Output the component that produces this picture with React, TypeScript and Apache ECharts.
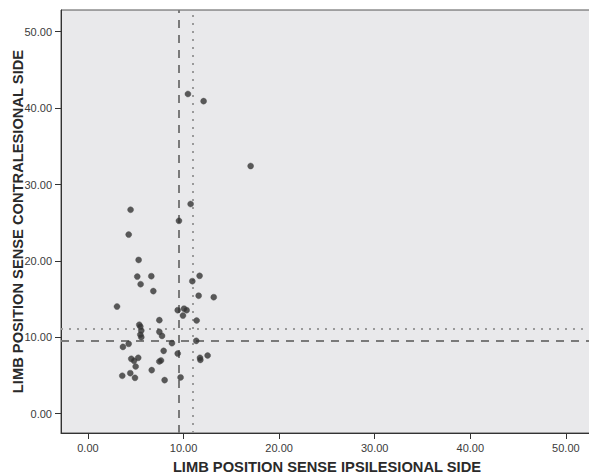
import React, { useEffect, useRef } from "react";
import * as echarts from "echarts";

const ipsilesional: number[] = [
  4.46, 4.26, 10.74, 9.52, 5.3, 5.16, 6.63, 5.51, 6.84, 11.68, 10.92, 11.58, 13.16,
  3.04, 9.39, 10.05, 10.32, 9.94, 7.47, 11.37, 5.37, 5.48, 5.58, 5.48, 5.58, 7.47,
  7.75, 11.33, 8.79, 4.26, 3.66, 7.92, 9.39, 4.53, 4.82, 5.26, 12.52, 11.72, 11.76,
  4.99, 7.47, 7.64, 6.67, 3.59, 4.43, 4.92, 8.02, 9.69, 10.46, 12.1, 17.02,
];
const contralesional: number[] = [
  26.7, 23.45, 27.45, 25.25, 20.13, 17.95, 18.0, 16.95, 16.05, 18.05, 17.35, 15.45, 15.25,
  14.03, 13.55, 13.75, 13.55, 12.85, 12.25, 12.2, 11.65, 11.41, 10.89, 10.35, 10.02, 10.72,
  10.19, 9.54, 9.24, 9.15, 8.75, 8.23, 7.88, 7.19, 6.93, 7.32, 7.62, 7.32, 7.05,
  6.18, 6.84, 6.97, 5.71, 4.97, 5.31, 4.7, 4.4, 4.75, 41.85, 40.91, 32.42,
];
const tickValues: number[] = [0, 10, 20, 30, 40, 50];
const xCutoffs = { dashed: 9.5, dotted: 11.0 };
const yCutoffs = { dashed: 9.55, dotted: 11.08 };
const xName = "LIMB POSITION SENSE IPSILESIONAL SIDE";
const yName = "LIMB POSITION SENSE CONTRALESIONAL SIDE";

const FONT = "'Liberation Sans', Arial, sans-serif";

export default function App() {
  const ref = useRef<HTMLDivElement>(null);
  useEffect(() => {
    if (!ref.current) return;
    const chart = echarts.init(ref.current, undefined, { renderer: "svg" });
    const points = ipsilesional.map((x, i) => [x, contralesional[i]]);
    const axisCommon = (name: string, min: number, max: number, nameGap: number) => ({
      type: "value" as const,
      min,
      max,
      name,
      nameLocation: "middle" as const,
      nameGap,
      nameMoveOverlap: false,
      nameTextStyle: { fontFamily: FONT, fontWeight: "bold", fontSize: 14.7, color: "#2a2a2a" },
      axisLine: { show: true, onZero: false, lineStyle: { color: "#333", width: 1 } },
      axisTick: { show: true, length: 6, customValues: tickValues, lineStyle: { color: "#333", width: 1 } },
      axisLabel: {
        customValues: tickValues,
        margin: 9,
        fontFamily: FONT,
        fontSize: 11,
        color: "#3a3a3a",
        formatter: (v: number) => v.toFixed(2),
      },
      splitLine: { show: false },
    });
    chart.setOption({
      animation: false,
      backgroundColor: "#ffffff",
      grid: {
        left: 61,
        top: 10,
        width: 532,
        height: 423,
        containLabel: false,
        outerBoundsMode: "none",
        show: true,
        backgroundColor: "#e9e9eb",
        borderColor: "#555",
        borderWidth: 1,
      },
      xAxis: axisCommon(xName, -2.82, 52.84, 26),
      yAxis: { ...axisCommon(yName, -2.52, 52.84, 36) },
      series: [
        {
          type: "scatter",
          data: points,
          symbolSize: 6,
          itemStyle: { color: "#333333", borderColor: "#4a4a4a", borderWidth: 0.5 },
          z: 5,
          markLine: {
            silent: true,
            symbol: ["none", "none"],
            label: { show: false },
            animation: false,
            data: [
              { xAxis: xCutoffs.dashed, lineStyle: { type: [8, 7], color: "#7a7a7a", width: 2 } },
              { xAxis: xCutoffs.dotted, lineStyle: { type: [2, 6], color: "#9a9a9a", width: 2 } },
              { yAxis: yCutoffs.dashed, lineStyle: { type: [8, 7], color: "#7a7a7a", width: 2 } },
              { yAxis: yCutoffs.dotted, lineStyle: { type: [2, 6], color: "#9a9a9a", width: 2 } },
            ],
          },
        },
      ],
    });
    return () => chart.dispose();
  }, []);
  return (
    <div
      ref={ref}
      style={{ position: "fixed", left: 0, top: 0, width: 589, height: 474 }}
    />
  );
}
